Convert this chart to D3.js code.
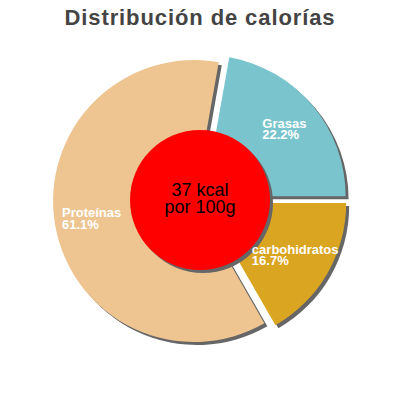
<!DOCTYPE html>
<html>
<head>
<meta charset="utf-8">
<script src="https://cdn.jsdelivr.net/npm/d3@7"></script>
<style>
  html, body { margin: 0; padding: 0; background: #fff; }
  svg { display: block; font-family: "Liberation Sans", Arial, sans-serif; }
</style>
</head>
<body>
<svg id="chart" width="400" height="400"></svg>
<script>
"use strict";

// chart values
const categories = [ 'Grasas', 'carbohidratos', 'Proteínas' ];
const percents   = [ 22.2, 16.7, 61.1 ];
const colors     = [ '#7AC5CD', '#DAA520', '#EEC591' ];
const centerText = [ '37 kcal', 'por 100g' ];
const title      = 'Distribución de calorías';

const width = 400, height = 400,
      cx = 200, cy = 200,
      radius = 141,
      explode = 6,
      labelRadius = 104,
      shadow = 3;

const svg = d3.select( '#chart' );

// title
svg.append( 'text' )
    .attr( 'x', width / 2 )
    .attr( 'y', 25 )
    .attr( 'text-anchor', 'middle' )
    .style( 'font-size', '22px' )
    .style( 'font-weight', 'bold' )
    .style( 'letter-spacing', '0.9px' )
    .style( 'fill', '#444' )
    .text( title );

// pie layout: first slice starts so that the second one begins at 3 o'clock
const pie = d3.pie()
              .sort( null )
              .value( d => d )
              .startAngle( Math.PI / 2 - 2 * Math.PI * percents[0] / 100 );
pie.endAngle( pie.startAngle()() + 2 * Math.PI );

const arcs = pie( percents );
const arc = d3.arc().innerRadius( 0 ).outerRadius( radius );

// offset of an exploded slice along its middle angle
const shift = (d, r) => {
  const a = (d.startAngle + d.endAngle) / 2;
  return [ Math.sin( a ) * r, -Math.cos( a ) * r ];
};

const g = svg.append( 'g' )
              .attr( 'transform', `translate(${cx}, ${cy})` );

// shadows first
g.append( 'g' )
    .attr( 'class', 'shadows' )
  .selectAll( 'path' )
    .data( arcs )
  .enter().append( 'path' )
    .attr( 'd', arc )
    .attr( 'transform', d => { const s = shift( d, explode ); return `translate(${s[0] + shadow}, ${s[1] + shadow})`; } )
    .style( 'fill', '#666' );

// slices
g.append( 'g' )
    .attr( 'class', 'slices' )
  .selectAll( 'path' )
    .data( arcs )
  .enter().append( 'path' )
    .attr( 'd', arc )
    .attr( 'transform', d => { const s = shift( d, explode ); return `translate(${s[0]}, ${s[1]})`; } )
    .style( 'fill', (d, i) => colors[i] );

// center disc with its shadow
g.append( 'circle' )
    .attr( 'cx', shadow ).attr( 'cy', shadow )
    .attr( 'r', 70 )
    .style( 'fill', '#666' );
g.append( 'circle' )
    .attr( 'r', 70 )
    .style( 'fill', '#f00' );

g.append( 'text' )
    .attr( 'text-anchor', 'middle' )
    .style( 'font-size', '18px' )
    .style( 'fill', '#000' )
  .selectAll( 'tspan' )
    .data( centerText )
  .enter().append( 'tspan' )
    .attr( 'x', 0 )
    .attr( 'y', (d, i) => -4 + i * 17 )
    .text( d => d );

// slice labels on top, two left aligned lines centered on the label point
const labels = g.append( 'g' )
                  .attr( 'class', 'labels' )
                .selectAll( 'text' )
                  .data( arcs )
                .enter().append( 'text' )
                  .style( 'font-size', '13px' )
                  .style( 'font-weight', 'bold' )
                  .style( 'fill', '#fff' );

labels.each( function( d, i ){
  const t = d3.select( this ),
        p = shift( d, labelRadius ),
        e = shift( d, explode ),
        x = p[0] + e[0],
        y = p[1] + e[1];
  t.append( 'tspan' ).text( categories[i] );
  t.append( 'tspan' ).text( d3.format( '.1f' )( percents[i] ) + '%' );
  const w = d3.max( t.selectAll( 'tspan' ).nodes(), n => n.getComputedTextLength() );
  t.selectAll( 'tspan' )
    .attr( 'x', x - w / 2 )
    .attr( 'y', (n, j) => y - 1.5 + j * 11.5 );
});
</script>
</body>
</html>
